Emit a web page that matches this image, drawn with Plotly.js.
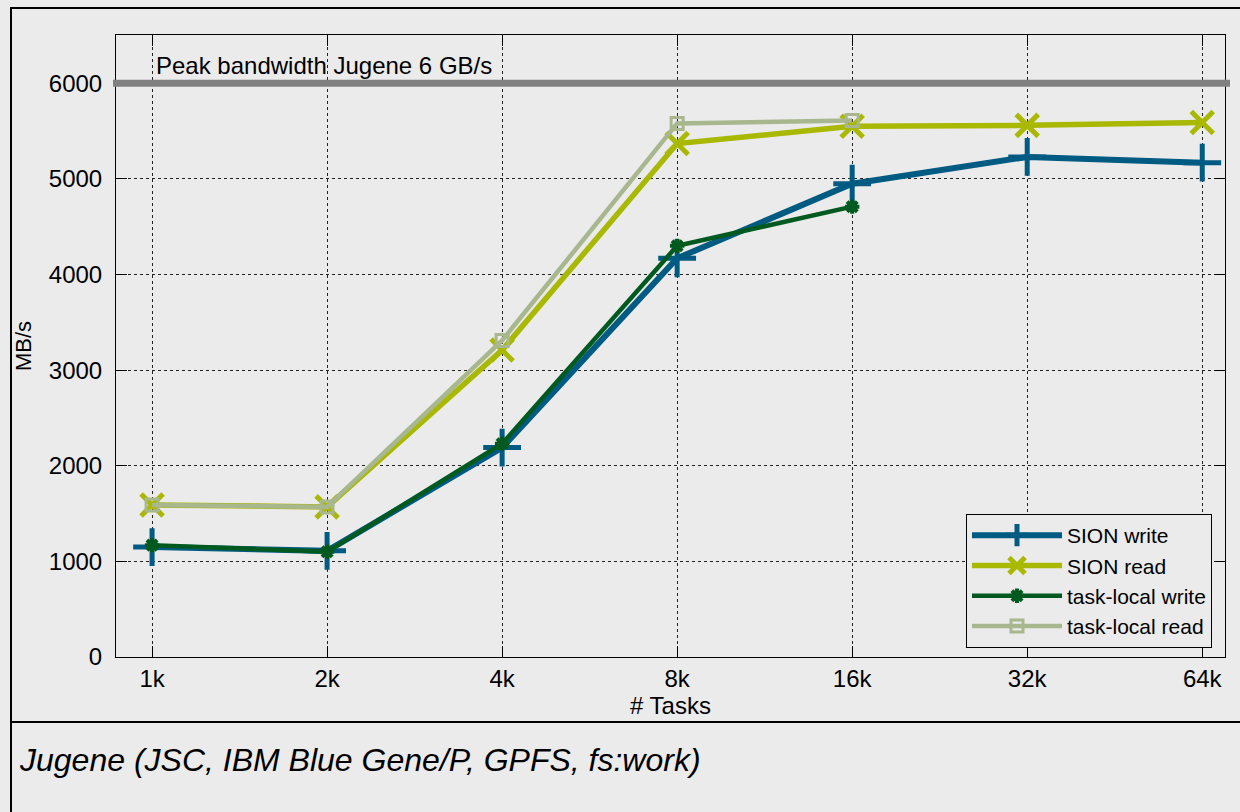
<!DOCTYPE html>
<html>
<head>
<meta charset="utf-8">
<script src="https://cdn.plot.ly/plotly-3.0.1.min.js"></script>
<style>html,body{margin:0;padding:0;background:#ebebeb;}#chart{width:1240px;height:812px;}</style>
</head>
<body>
<div id="chart"></div>
<script>
// Data
var tasks = [1024, 2048, 4096, 8192, 16384, 32768, 65536];
var tickLabels = ["1k", "2k", "4k", "8k", "16k", "32k", "64k"];
var sionWrite = [1150, 1110, 2190, 4170, 4950, 5230, 5170];
var sionRead = [1590, 1570, 3210, 5370, 5550, 5560, 5590];
var tlTasks = [1024, 2048, 4096, 8192, 16384];
var tlWrite = [1170, 1100, 2230, 4300, 4710];
var tlRead = [1590, 1570, 3310, 5580, 5610];
var peak = 6000;
var yTicks = [0, 1000, 2000, 3000, 4000, 5000, 6000];

var font = "Liberation Sans, Arial, sans-serif";

var traces = [
  {x: tasks, y: sionWrite, name: "SION write", type: "scatter", mode: "lines+markers",
   line: {color: "#005b82", width: 6},
   marker: {symbol: "cross-thin", size: 27, line: {color: "#005b82", width: 5}, color: "#005b82"}},
  {x: tasks, y: sionRead, name: "SION read", type: "scatter", mode: "lines+markers",
   line: {color: "#a9b800", width: 5.5},
   marker: {symbol: "x-thin", size: 22, line: {color: "#a9b800", width: 5}, color: "#a9b800"}},
  {x: tlTasks, y: tlWrite, name: "task-local write", type: "scatter", mode: "lines+markers",
   line: {color: "#005a1f", width: 4.5},
   marker: {symbol: "asterisk", size: 12, line: {color: "#005a1f", width: 4}, color: "#005a1f"}},
  {x: tlTasks, y: tlRead, name: "task-local read", type: "scatter", mode: "lines+markers",
   line: {color: "#a8b78e", width: 4.5},
   marker: {symbol: "square-open", size: 12, line: {color: "#a8b78e", width: 3}, color: "#a8b78e"}}
];

var L = 116, R = 1225, T = 35, B = 657;
function px(x){ return (x - L) / (R - L); }
function py(y){ return (B - y) / (B - T); }

var layout = {
  width: 1240, height: 812,
  margin: {l: L, r: 1240 - R, t: T, b: 812 - B},
  paper_bgcolor: "#ebebeb", plot_bgcolor: "#ebebeb",
  font: {family: font, size: 24, color: "#000"},
  showlegend: true,
  xaxis: {
    type: "log",
    range: [Math.log10(1024) - 0.206 * Math.log10(2), Math.log10(1024) + 6.13 * Math.log10(2)],
    tickvals: tasks, ticktext: tickLabels,
    ticks: "inside", ticklen: 11, tickcolor: "#000", tickwidth: 1,
    ticklabelstandoff: 0,
    showgrid: true, gridcolor: "#222", griddash: "dot", gridwidth: 1,
    showline: true, linecolor: "#000", linewidth: 1, mirror: "ticks",
    zeroline: false,
    tickfont: {family: font, size: 24},
    title: {text: "# Tasks", font: {family: font, size: 24}, standoff: 0}
  },
  yaxis: {
    range: [0, 6505],
    tickvals: yTicks,
    ticks: "inside", ticklen: 11, tickcolor: "#000", tickwidth: 1,
    ticklabelstandoff: 8,
    showgrid: true, gridcolor: "#222", griddash: "dot", gridwidth: 1,
    showline: true, linecolor: "#000", linewidth: 1, mirror: "ticks",
    zeroline: false,
    tickfont: {family: font, size: 24},
    title: {text: "MB/s", font: {family: font, size: 22}, standoff: 11}
  },
  legend: {
    x: px(1212), y: py(648), xanchor: "right", yanchor: "bottom",
    bgcolor: "#ebebeb", bordercolor: "#000", borderwidth: 1,
    font: {family: font, size: 21},
    itemwidth: 90, tracegroupgap: 0,
    traceorder: "normal"
  },
  shapes: [
    {type: "line", xref: "paper", yref: "y", x0: px(113), x1: px(1230), y0: peak, y1: peak,
     line: {color: "#808080", width: 7}, layer: "above"},
    {type: "rect", xref: "paper", yref: "paper", x0: px(11), x1: px(1246), y0: py(8), y1: py(820),
     line: {color: "#000", width: 2}},
    {type: "line", xref: "paper", yref: "paper", x0: px(11), x1: px(1246), y0: py(722), y1: py(722),
     line: {color: "#000", width: 2}}
  ],
  annotations: [
    {xref: "paper", yref: "y", x: px(154), y: peak, xanchor: "left", yanchor: "bottom", yshift: 2,
     text: "Peak bandwidth Jugene 6 GB/s", showarrow: false, font: {family: font, size: 24}},
    {xref: "paper", yref: "paper", x: px(17), y: py(760), xanchor: "left", yanchor: "middle",
     text: "<i>Jugene (JSC, IBM Blue Gene/P, GPFS, fs:work)</i>", showarrow: false,
     font: {family: font, size: 32}}
  ]
};

Plotly.newPlot("chart", traces, layout, {displayModeBar: false, staticPlot: true});
</script>
</body>
</html>
